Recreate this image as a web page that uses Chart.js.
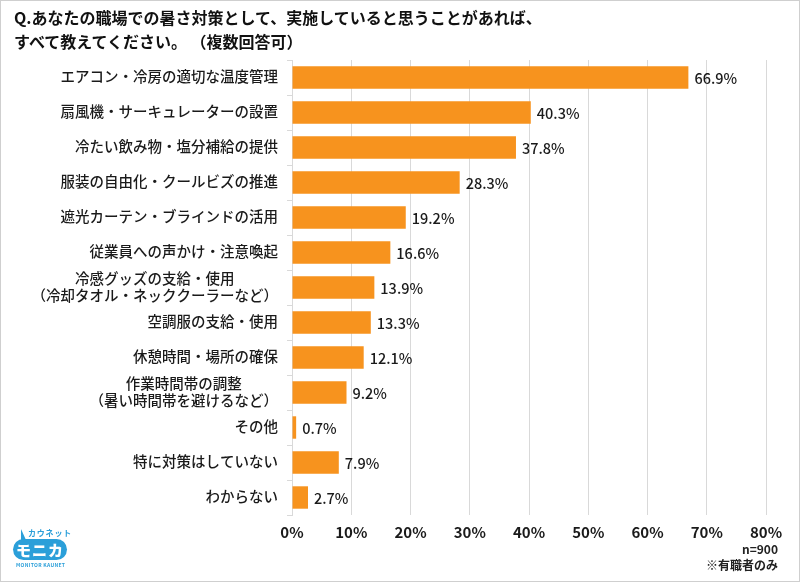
<!DOCTYPE html>
<html><head><meta charset="utf-8">
<script src="https://cdn.jsdelivr.net/npm/chart.js@4.4.1/dist/chart.umd.min.js"></script>
<style>
html,body{margin:0;padding:0;background:#fff;}
#wrap{position:relative;width:800px;height:582px;overflow:hidden;font-family:"Noto Sans CJK JP","Noto Sans",sans-serif;}
#frame{position:absolute;left:0;top:0;width:798px;height:580px;border:1px solid #cfcfcf;pointer-events:none;}
canvas{position:absolute;left:0;top:0;}
#title{position:absolute;left:14px;top:5px;font-size:16px;font-weight:700;line-height:24px;color:#111;white-space:nowrap;}
#note{position:absolute;right:22px;top:541px;font-size:12px;font-weight:700;line-height:16px;color:#222;text-align:right;}
#logo{position:absolute;left:12px;top:528px;width:62px;height:46px;}
#logo .kana{position:absolute;left:16px;top:0px;font-size:8px;font-weight:700;color:#2b9fd9;letter-spacing:0.8px;white-space:nowrap;line-height:10px;}
#logo .bub{position:absolute;left:1px;top:11px;width:54px;height:21px;background:#2b9fd9;border-radius:11px;color:#fff;font-size:15px;font-weight:900;text-align:center;line-height:21px;letter-spacing:1px;}
#logo .tail{position:absolute;left:9px;top:1px;width:0;height:0;border-left:0 solid transparent;border-right:5px solid transparent;border-bottom:11px solid #2b9fd9;}
#logo .en{position:absolute;left:4px;top:34px;font-size:5px;font-weight:700;color:#2b9fd9;white-space:nowrap;letter-spacing:0.3px;line-height:6px;}
</style></head>
<body>
<div id="wrap">
<canvas id="c" width="800" height="582"></canvas>
<div id="title">Q.あなたの職場での暑さ対策として、実施していると思うことがあれば、<br>すべて教えてください。 （複数回答可）</div>
<div id="logo"><div class="tail"></div><div class="kana">カウネット</div><div class="bub">モニカ</div><div class="en">MONITOR KAUNET</div></div>
<div id="note">n=900<br>※有職者のみ</div>
<div id="frame"></div>
</div>
<script>
const categories = [
  "エアコン・冷房の適切な温度管理",
  "扇風機・サーキュレーターの設置",
  "冷たい飲み物・塩分補給の提供",
  "服装の自由化・クールビズの推進",
  "遮光カーテン・ブラインドの活用",
  "従業員への声かけ・注意喚起",
  ["冷感グッズの支給・使用", "（冷却タオル・ネッククーラーなど）"],
  "空調服の支給・使用",
  "休憩時間・場所の確保",
  ["作業時間帯の調整", "（暑い時間帯を避けるなど）"],
  "その他",
  "特に対策はしていない",
  "わからない"
];
const values = [66.9, 40.3, 37.8, 28.3, 19.2, 16.6, 13.9, 13.3, 12.1, 9.2, 0.7, 7.9, 2.7];
const xTicks = [0, 10, 20, 30, 40, 50, 60, 70, 80];

const FONT = '"Noto Sans CJK JP","Noto Sans",sans-serif';

const valueLabels = {
  id: 'valueLabels',
  afterDatasetsDraw(chart) {
    const ctx = chart.ctx;
    const meta = chart.getDatasetMeta(0);
    ctx.save();
    ctx.font = '500 14.5px ' + FONT;
    ctx.fillStyle = '#1a1a1a';
    ctx.textAlign = 'left';
    ctx.textBaseline = 'middle';
    meta.data.forEach((bar, i) => {
      ctx.fillText(values[i].toFixed(1) + '%', bar.x + 6, bar.y + 1);
    });
    ctx.restore();
  }
};

// category labels: right-aligned block, lines centred within the block
const catLabels = {
  id: 'catLabels',
  afterDraw(chart) {
    const ctx = chart.ctx;
    const ys = chart.scales.y;
    const right = ys.right - 5 - 9;
    const lh = 17;
    ctx.save();
    ctx.font = '500 14.5px ' + FONT;
    ctx.fillStyle = '#1a1a1a';
    ctx.textAlign = 'center';
    ctx.textBaseline = 'middle';
    categories.forEach((lab, i) => {
      const lines = Array.isArray(lab) ? lab : [lab];
      const w = Math.max(...lines.map(l => ctx.measureText(l).width));
      const cx = right - w / 2;
      const y0 = ys.getPixelForValue(i) - (lines.length - 1) * lh / 2 - 1;
      lines.forEach((l, k) => ctx.fillText(l, cx, y0 + k * lh));
    });
    ctx.restore();
  }
};

new Chart(document.getElementById('c'), {
  type: 'bar',
  data: {
    labels: categories,
    datasets: [{
      data: values,
      backgroundColor: '#F7931E',
      borderWidth: 0,
      barPercentage: 0.64,
      categoryPercentage: 1.0
    }]
  },
  options: {
    indexAxis: 'y',
    responsive: false,
    animation: false,
    devicePixelRatio: 1,
    layout: { padding: { left: 0, top: 60, right: 34, bottom: 0 } },
    plugins: { legend: { display: false }, tooltip: { enabled: false } },
    scales: {
      x: {
        min: 0, max: 80,
        afterBuildTicks(scale) { scale.ticks = xTicks.map(v => ({ value: v })); },
        afterFit(scale) { scale.height = 67; },
        grid: { color: '#d9d9d9', lineWidth: 1, tickLength: 0, drawTicks: false },
        border: { display: false },
        ticks: {
          padding: 8,
          color: '#1a1a1a',
          font: { family: FONT, size: 15, weight: 'bold' },
          callback: v => v + '%'
        }
      },
      y: {
        afterFit(scale) { scale.width = 292; },
        grid: { offset: true, drawOnChartArea: false, tickLength: 5, color: '#d9d9d9' },
        border: { display: true, color: '#d9d9d9' },
        ticks: {
          autoSkip: false,
          padding: 9,
          color: 'rgba(0,0,0,0)',
          font: { family: FONT, size: 14.5, weight: '500', lineHeight: 1.2 }
        }
      }
    }
  },
  plugins: [valueLabels, catLabels]
});
</script>
</body></html>
